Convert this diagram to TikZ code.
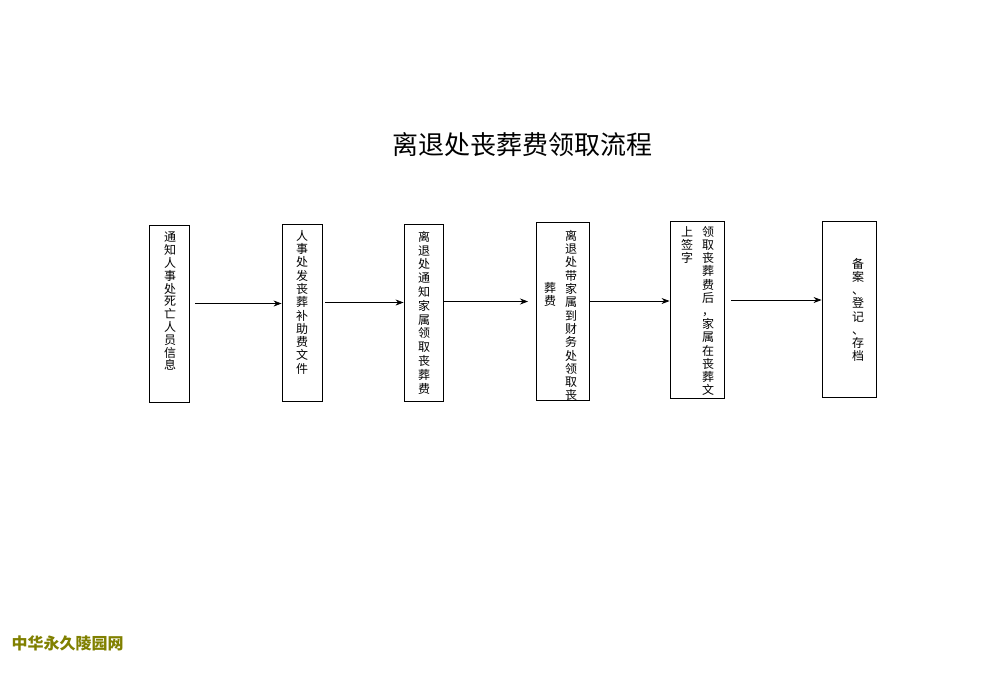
\documentclass[tikz,border=0pt]{standalone}
\usepackage{fontspec}
\newfontfamily\cjk{Noto Sans CJK SC}
\usetikzlibrary{arrows.meta}
\begin{document}
\begin{tikzpicture}[x=1pt,y=-1pt,
  boxs/.style={draw,line width=0.9pt},
  col/.style={font=\cjk\fontsize{12}{#1}\selectfont,align=center,inner sep=0pt,anchor=north},
  arr/.style={-{Stealth[length=8pt,width=6pt]},line width=0.7pt}]
\useasboundingbox (0,0) rectangle (1000,672);
\node[font=\cjk\fontsize{26}{30}\selectfont] (title) at (522,145) {离退处丧葬费领取流程};
\node[boxs,minimum width=40,minimum height=177] (b1) at (169,313.5) {};
\node[boxs,minimum width=40,minimum height=177] (b2) at (302,312.5) {};
\node[boxs,minimum width=39,minimum height=177] (b3) at (423.5,312.5) {};
\node[boxs,minimum width=53,minimum height=178] (b4) at (562.5,311) {};
\node[boxs,minimum width=54,minimum height=177] (b5) at (697,309.5) {};
\node[boxs,minimum width=54,minimum height=176] (b6) at (849,309) {};
\node[col=12.8] (t1) at (170,232) {通\\知\\人\\事\\处\\死\\亡\\人\\员\\信\\息};
\node[col=13.3] (t2) at (302,230) {人\\事\\处\\发\\丧\\葬\\补\\助\\费\\文\\件};
\node[col=13.8] (t3) at (424,231) {离\\退\\处\\通\\知\\家\\属\\领\\取\\丧\\葬\\费};
\node[col=13.3] (t4a) at (571,230) {离\\退\\处\\带\\家\\属\\到\\财\\务\\处\\领\\取\\丧};
\node[col=13.3] (t4b) at (550,282) {葬\\费};
\node[col=13.2] (t5a) at (708,226) {领\\取\\丧\\葬\\费\\后\\，\\家\\属\\在\\丧\\葬\\文};
\node[col=13.2] (t5b) at (687,226) {上\\签\\字};
\node[col=13.2] (t6) at (858,258) {备\\案\\、\\登\\记\\、\\存\\档};
\coordinate (s1) at (195,303.5);
\coordinate (s2) at (325,302.5);
\coordinate (s3) at (444,301.5);
\coordinate (s5) at (731,300);
\draw[arr] (s1) -- (b2.west |- s1);
\draw[arr] (s2) -- (b3.west |- s2);
\draw[arr] (s3) -- (528,301.5);
\draw[arr] (b4.east |- 0,301) -- (b5.west |- 0,301);
\draw[arr] (s5) -- (b6.west |- s5);
\node[font=\cjk\bfseries\fontsize{16}{18}\selectfont,text={rgb,255:red,128;green,128;blue,0},anchor=west] (foot) at (8,643) {中华永久陵园网};
\end{tikzpicture}
\end{document}
